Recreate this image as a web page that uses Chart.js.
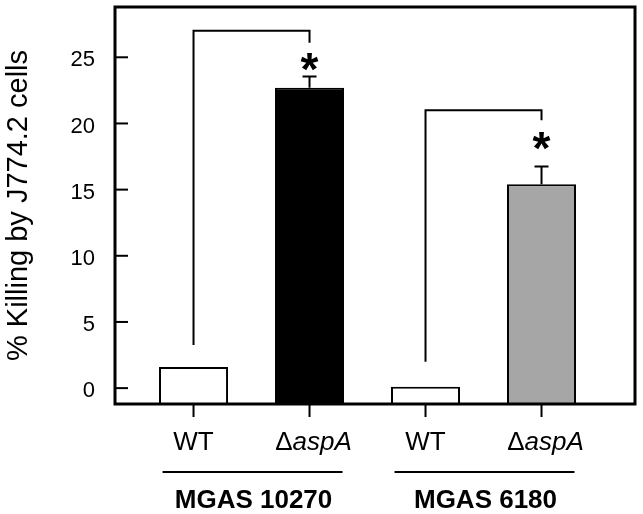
<!DOCTYPE html>
<html>
<head>
<meta charset="utf-8">
<script src="https://cdn.jsdelivr.net/npm/chart.js@4"></script>
<style>
html, body { margin: 0; padding: 0; background: #fff; }
</style>
</head>
<body>
<canvas id="killChart" width="643" height="514"></canvas>
<script>
const strains = ['MGAS 10270', 'MGAS 6180'];
const categories = ['WT', '\u0394aspA', 'WT', '\u0394aspA'];
const positions = [1, 2, 3, 4];
const killing = [1.6, 22.7, 0.1, 15.4];
const errorUp = [0, 0.85, 0, 1.35];
const barColors = ['#ffffff', '#000000', '#ffffff', '#a6a6a6'];
const yTicks = [0, 5, 10, 15, 20, 25];
const Y_MIN = -1.2;
const Y_MAX = 28.8;

// significance brackets: from bar, to bar, left leg end, top, right leg end, star height
const brackets = [
    [0, 1, 3.25, 27.0, 26.1, 24.65],
    [2, 3, 2.0, 21.0, 20.25, 18.65]
];

const FONT = 'Arial, "Liberation Sans", sans-serif';
Chart.defaults.font.family = FONT;
Chart.defaults.color = '#000';

const ctx = document.getElementById('killChart').getContext('2d');

const decorations = {
    id: 'decorations',
    afterDatasetsDraw(chart) {
        const c = chart.ctx;
        const xs = chart.scales.x;
        const ys = chart.scales.y;
        const area = chart.chartArea;
        c.save();
        c.strokeStyle = '#000';
        c.fillStyle = '#000';

        // error bars (upper only)
        c.lineWidth = 2;
        errorUp.forEach((e, i) => {
            if (!e) return;
            const x = xs.getPixelForValue(positions[i]);
            const y0 = ys.getPixelForValue(killing[i]);
            const y1 = ys.getPixelForValue(killing[i] + e);
            c.beginPath();
            c.moveTo(x, y0);
            c.lineTo(x, y1);
            c.moveTo(x - 7, y1);
            c.lineTo(x + 7, y1);
            c.stroke();
        });

        // brackets and stars
        brackets.forEach(b => {
            const xa = xs.getPixelForValue(positions[b[0]]);
            const xb = xs.getPixelForValue(positions[b[1]]);
            c.beginPath();
            c.moveTo(xa, ys.getPixelForValue(b[2]));
            c.lineTo(xa, ys.getPixelForValue(b[3]));
            c.lineTo(xb, ys.getPixelForValue(b[3]));
            c.lineTo(xb, ys.getPixelForValue(b[4]));
            c.stroke();

            c.font = 'bold 46px ' + FONT;
            c.textAlign = 'center';
            c.textBaseline = 'alphabetic';
            const m = c.measureText('*');
            const cy = ys.getPixelForValue(b[5]);
            const base = cy - (m.actualBoundingBoxDescent - m.actualBoundingBoxAscent) / 2;
            c.fillText('*', xb, base);
        });

        // frame
        c.lineWidth = 3;
        c.strokeRect(area.left, area.top, area.right - area.left, area.bottom - area.top);

        // inward y ticks
        c.lineWidth = 2;
        yTicks.forEach(v => {
            const y = ys.getPixelForValue(v);
            c.beginPath();
            c.moveTo(area.left, y);
            c.lineTo(area.left + 13, y);
            c.stroke();
        });

        // x ticks and labels
        positions.forEach((p, i) => {
            const x = xs.getPixelForValue(p);
            c.beginPath();
            c.moveTo(x, area.bottom);
            c.lineTo(x, area.bottom + 13);
            c.stroke();

            const label = categories[i];
            c.textBaseline = 'alphabetic';
            c.textAlign = 'left';
            if (label.startsWith('\u0394')) {
                const rest = label.slice(1);
                c.font = '26px ' + FONT;
                const w1 = c.measureText('\u0394').width;
                c.font = 'italic 26px ' + FONT;
                const w2 = c.measureText(rest).width;
                const start = x - (w1 + w2) / 2 + 4;
                c.font = '26px ' + FONT;
                c.fillText('\u0394', start, 450);
                c.font = 'italic 26px ' + FONT;
                c.fillText(rest, start + w1, 450);
            } else {
                c.font = '26px ' + FONT;
                const w = c.measureText(label).width;
                c.fillText(label, x - w / 2, 450);
            }
        });

        // strain groups
        strains.forEach((s, g) => {
            const xa = xs.getPixelForValue(positions[g * 2]);
            const xb = xs.getPixelForValue(positions[g * 2 + 1]);
            c.lineWidth = 2;
            c.beginPath();
            c.moveTo(xa - 31, 472);
            c.lineTo(xb + 33, 472);
            c.stroke();
            c.font = 'bold 26px ' + FONT;
            c.textAlign = 'center';
            c.fillText(s, (xa + xb) / 2 + 2, 508);
        });
        c.restore();
    }
};

new Chart(ctx, {
    type: 'bar',
    data: {
        datasets: [{
            data: positions.map((p, i) => ({ x: p, y: killing[i] })),
            backgroundColor: barColors,
            borderColor: '#000',
            borderWidth: 2,
            base: Y_MIN,
            barPercentage: 0.595,
            categoryPercentage: 1
        }]
    },
    options: {
        responsive: false,
        animation: false,
        devicePixelRatio: 1,
        layout: { padding: { top: 7, right: 8, bottom: 110, left: 0 } },
        plugins: { legend: { display: false }, tooltip: { enabled: false } },
        scales: {
            x: {
                type: 'linear',
                min: 0.323,
                max: 4.806,
                offset: false,
                display: false,
                afterBuildTicks: s => { s.ticks = positions.map(v => ({ value: v })); }
            },
            y: {
                min: Y_MIN,
                max: Y_MAX,
                afterBuildTicks: s => { s.ticks = yTicks.map(v => ({ value: v })); },
                afterFit: s => {
                    s.width = 115;
                    s.paddingTop = 0;
                    s.paddingBottom = 0;
                },
                grid: { display: false, drawTicks: false },
                border: { display: false },
                ticks: { font: { size: 22 }, padding: 20, labelOffset: 3 },
                title: {
                    display: true,
                    text: '% Killing by J774.2 cells',
                    font: { size: 29 },
                    padding: { top: 2, bottom: 0 }
                }
            }
        }
    },
    plugins: [decorations]
});
</script>
</body>
</html>
